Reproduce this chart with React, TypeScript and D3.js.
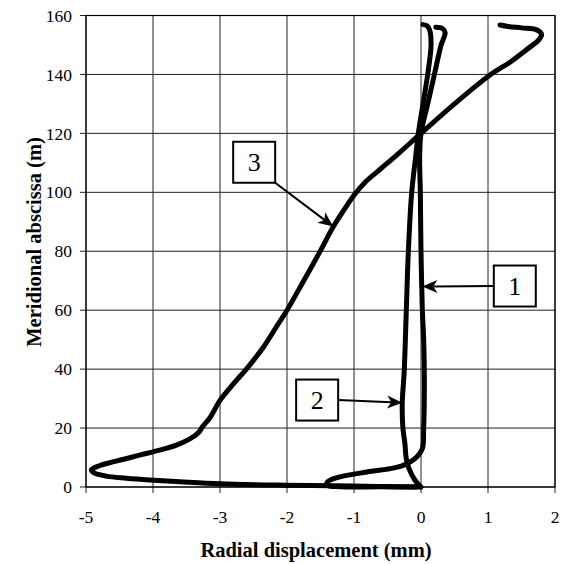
import * as React from 'react';
import * as d3 from 'd3';

// radial displacement (mm) vs meridional abscissa (m)
const curve1: [number, number][] = [
  [-0.07, 0], [-0.6, 0.05], [-1.2, 0.1], [-1.4, 0.6], [-1.4, 1.6], [-1.28, 3.0], [-0.81, 5.1],
  [-0.4, 6.5], [-0.2, 8.0], [-0.06, 10.3], [0.02, 13], [0.04, 20], [0.05, 36], [0.04, 50],
  [0.02, 60], [0.0, 80], [-0.01, 100], [-0.02, 112], [0, 120], [0.1, 130], [0.2, 140],
  [0.3, 150], [0.36, 154.2], [0.32, 155.6], [0.22, 156.0],
];
const curve2: [number, number][] = [
  [0, 0], [-0.09, 2.3], [-0.18, 6.3], [-0.22, 9.6], [-0.24, 14.7], [-0.27, 20], [-0.28, 28.3],
  [-0.25, 39.6], [-0.22, 59.4], [-0.19, 79.3], [-0.14, 99.6], [-0.08, 112], [-0.04, 120],
  [0.03, 130], [0.1, 140], [0.15, 150], [0.13, 155], [0.09, 156.5], [0.03, 156.9],
];
const curve3: [number, number][] = [
  [0, 0], [-0.5, 0.15], [-1, 0.3], [-2, 0.6], [-3, 1.1], [-3.6, 1.8], [-4.05, 2.4], [-4.4, 3.0],
  [-4.7, 3.7], [-4.88, 4.8], [-4.92, 5.8], [-4.8, 7.2], [-4.6, 8.5], [-4.2, 10.8], [-3.9, 12.5],
  [-3.65, 14.2], [-3.45, 16.3], [-3.32, 18.5], [-3.26, 20.5], [-3.15, 23.5], [-3.0, 29.4],
  [-2.8, 35], [-2.6, 40.2], [-2.35, 47.5], [-2.16, 54.3], [-2.0, 60], [-1.75, 70], [-1.51, 79.8],
  [-1.31, 88.3], [-1.15, 94], [-1.0, 99], [-0.83, 103.5], [-0.6, 108], [-0.32, 113.5], [0, 120],
  [0.5, 130], [1.03, 139.8], [1.35, 144.5], [1.57, 148.3], [1.76, 151.8], [1.8, 153.6],
  [1.72, 155.2], [1.5, 155.8], [1.3, 156.3], [1.18, 156.8],
];

const xTicks = [-5, -4, -3, -2, -1, 0, 1, 2];
const yTicks = [0, 20, 40, 60, 80, 100, 120, 140, 160];

// callouts: label, box centre, arrow tip (data units)
const labels = ['1', '2', '3'];
const labelBox: [number, number][] = [[1.40, 68.2], [-1.55, 29.5], [-2.49, 110.2]];
const labelTip: [number, number][] = [[0.02, 68.0], [-0.28, 28.6], [-1.31, 88.4]];

const W = 562, H = 564;
const font = '"Liberation Serif", "Times New Roman", serif';

export default function App() {
  const x = d3.scaleLinear().domain([-5, 2]).range([86, 555]);
  const y = d3.scaleLinear().domain([0, 160]).range([487, 15.5]);
  const line = d3.line<[number, number]>()
    .x(d => x(d[0]))
    .y(d => y(d[1]))
    .curve(d3.curveCatmullRom.alpha(0.5));

  const [x0, x1] = x.range();
  const [y0, y1] = y.range();
  const bw = 42, bh = 41;

  return (
    <svg width={W} height={H} style={{ position: 'absolute', left: 0, top: 0, background: '#fff' }}>
      {/* grid */}
      {xTicks.map(t => (
        <line key={'gx' + t} x1={x(t)} x2={x(t)} y1={y1} y2={y0 + 6} stroke="#222" strokeWidth={1} />
      ))}
      {yTicks.map(t => (
        <line key={'gy' + t} x1={x0 - 6} x2={x1} y1={y(t)} y2={y(t)} stroke="#222" strokeWidth={1} />
      ))}
      <rect x={x0} y={y1} width={x1 - x0} height={y0 - y1} fill="none" stroke="#000" strokeWidth={1.2} />

      {/* tick labels */}
      {xTicks.map(t => (
        <text key={'tx' + t} x={x(t)} y={523} textAnchor="middle" fontFamily={font} fontSize={17.5}>
          {t < 0 ? '-' + Math.abs(t) : t}
        </text>
      ))}
      {yTicks.map(t => (
        <text key={'ty' + t} x={72} y={y(t)} dy="0.35em" textAnchor="end" fontFamily={font} fontSize={17.5}>
          {t}
        </text>
      ))}

      <text x={316} y={557} textAnchor="middle" fontFamily={font} fontSize={20.5} fontWeight="bold">
        Radial displacement (mm)
      </text>
      <text transform={`translate(41,242) rotate(-90)`} textAnchor="middle" fontFamily={font}
        fontSize={20.5} fontWeight="bold">
        Meridional abscissa (m)
      </text>

      {/* curves */}
      {[curve1, curve2, curve3].map((c, i) => (
        <path key={'c' + i} d={line(c) || ''} fill="none" stroke="#000" strokeWidth={5}
          strokeLinejoin="round" strokeLinecap="round" />
      ))}

      {/* callouts */}
      {labels.map((lab, i) => {
        const cx = x(labelBox[i][0]), cy = y(labelBox[i][1]);
        const tx = x(labelTip[i][0]), ty = y(labelTip[i][1]);
        // start of arrow: box edge
        let sx = cx, sy = cy;
        if (lab === '3') { sx = cx + bw / 2; sy = cy + bh / 2; }
        else if (tx < cx) sx = cx - bw / 2;
        else sx = cx + bw / 2;
        const ang = Math.atan2(ty - sy, tx - sx);
        const L = 15, hw = 6.5;
        const bx = tx - L * Math.cos(ang), by = ty - L * Math.sin(ang);
        const nx = tx - (L - 4) * Math.cos(ang), ny = ty - (L - 4) * Math.sin(ang);
        const px = -Math.sin(ang) * hw, py = Math.cos(ang) * hw;
        return (
          <g key={'lab' + lab}>
            <line x1={sx} y1={sy} x2={nx} y2={ny} stroke="#000" strokeWidth={2} />
            <path d={`M${tx},${ty}L${bx + px},${by + py}L${nx},${ny}L${bx - px},${by - py}Z`} fill="#000" />
            <rect x={cx - bw / 2} y={cy - bh / 2} width={bw} height={bh} fill="#fff" stroke="#000" strokeWidth={2} />
            <text x={cx} y={cy} dy="0.35em" textAnchor="middle" fontFamily={font} fontSize={26}>{lab}</text>
          </g>
        );
      })}
    </svg>
  );
}
